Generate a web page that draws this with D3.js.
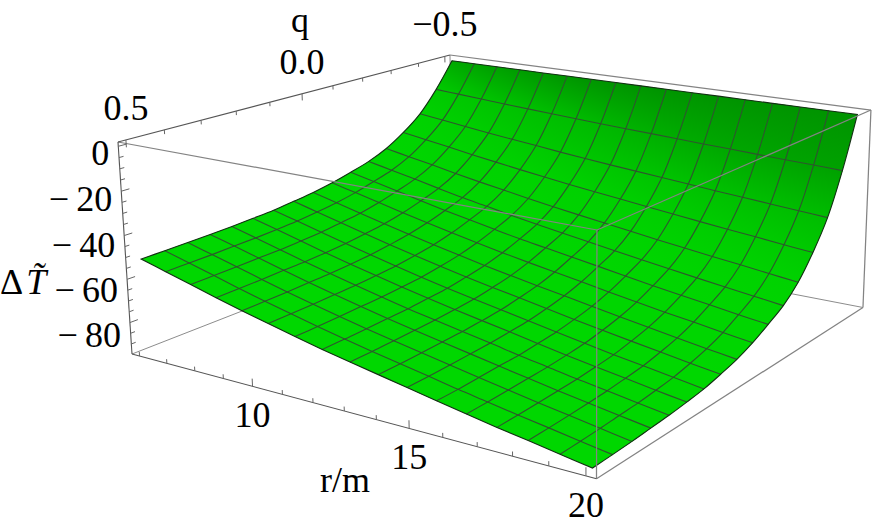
<!DOCTYPE html>
<html>

<head>
    <meta charset="utf-8">
    <title>Delta T surface</title>
    <script src="https://d3js.org/d3.v7.min.js"></script>
    <style>
        html, body { margin: 0; padding: 0; background: #fff; }
        svg { display: block; }
        text { font-family: "Liberation Serif", serif; font-size: 36px; fill: #000; }
    </style>
</head>

<body>
    <div id="myPlot"></div>
    <script>
        // mesh positions on the surface
        var rValues = [6, 6.875, 7.75, 8.625, 9.5, 10.375, 11.25, 12.125, 13, 13.875, 14.75, 15.625, 16.5, 17.375, 18.25, 19.125, 20];
        var qValues = [-0.5, -0.4375, -0.375, -0.3125, -0.25, -0.1875, -0.125, -0.0625, 0, 0.0625, 0.125, 0.1875, 0.25, 0.3125, 0.375, 0.4375, 0.5];

        // one row per q value
        var zRows = [
            [0, 0, 0, 0, 0, 0, 0, 0, 0, 0, 0, 0, 0, 0, 0, 0, 0],
            [-13.0, -13.8, -14.7, -15.5, -16.3, -17.0, -17.8, -18.5, -19.1, -19.7, -20.3, -21.0, -21.5, -22.1, -22.7, -23.2, -23.8],
            [-23.5, -25.0, -26.5, -28.0, -29.4, -30.7, -32.1, -33.3, -34.5, -35.6, -36.7, -37.8, -38.9, -39.9, -40.9, -41.9, -42.9],
            [-30.7, -32.6, -34.5, -36.5, -38.3, -40.1, -41.8, -43.4, -44.9, -46.4, -47.8, -49.3, -50.7, -52.1, -53.3, -54.7, -55.9],
            [-36.3, -38.6, -40.8, -43.2, -45.4, -47.4, -49.5, -51.4, -53.2, -54.9, -56.6, -58.4, -60.0, -61.6, -63.1, -64.7, -66.2],
            [-40.1, -42.6, -45.1, -47.7, -50.2, -52.4, -54.7, -56.8, -58.8, -60.7, -62.6, -64.5, -66.3, -68.1, -69.8, -71.5, -73.2],
            [-42.7, -45.3, -48.0, -50.8, -53.4, -55.8, -58.2, -60.5, -62.5, -64.5, -66.5, -68.6, -70.6, -72.5, -74.2, -76.1, -77.8],
            [-45.0, -47.8, -50.6, -53.5, -56.2, -58.8, -61.3, -63.7, -65.9, -68.0, -70.1, -72.3, -74.4, -76.4, -78.2, -80.2, -82.0],
            [-46.7, -49.6, -52.6, -55.6, -58.4, -61.1, -63.7, -66.2, -68.5, -70.7, -72.8, -75.1, -77.2, -79.3, -81.3, -83.3, -85.2],
            [-47.9, -50.9, -53.9, -57.0, -59.9, -62.7, -65.4, -67.9, -70.3, -72.5, -74.8, -77.1, -79.3, -81.4, -83.4, -85.5, -87.4],
            [-49.0, -52.0, -55.1, -58.2, -61.2, -64.0, -66.8, -69.4, -71.8, -74.1, -76.4, -78.7, -81.0, -83.2, -85.2, -87.3, -89.3],
            [-49.6, -52.7, -55.8, -59.0, -62.0, -64.8, -67.6, -70.2, -72.7, -75.0, -77.3, -79.7, -82.0, -84.2, -86.2, -88.4, -90.4],
            [-50.1, -53.2, -56.4, -59.6, -62.6, -65.5, -68.3, -71.0, -73.4, -75.8, -78.1, -80.6, -82.8, -85.1, -87.1, -89.3, -91.3],
            [-50.4, -53.5, -56.7, -59.9, -63.0, -65.9, -68.7, -71.4, -73.9, -76.2, -78.6, -81.0, -83.3, -85.6, -87.7, -89.8, -91.9],
            [-50.7, -53.9, -57.0, -60.3, -63.4, -66.3, -69.1, -71.8, -74.3, -76.7, -79.1, -81.5, -83.8, -86.1, -88.2, -90.4, -92.5],
            [-50.9, -54.1, -57.3, -60.6, -63.7, -66.6, -69.5, -72.2, -74.7, -77.1, -79.5, -82.0, -84.2, -86.5, -88.6, -90.8, -92.9],
            [-51.1, -54.3, -57.5, -60.8, -63.9, -66.8, -69.7, -72.4, -74.9, -77.3, -79.7, -82.2, -84.5, -86.8, -88.9, -91.1, -93.2]
        ];

        var rTickLabels = [10, 15, 20];
        var qTickLabels = [0.5, 0, -0.5];
        var zTickLabels = [0, -20, -40, -60, -80];

        var svg = d3.select("#myPlot").append("svg")
            .attr("width", 872)
            .attr("height", 531);

        // box coordinates, 0 to 1 along each edge
        var uScale = d3.scaleLinear().domain([5.72, 20.28]).range([0, 1]);
        var vScale = d3.scaleLinear().domain([0.52, -0.52]).range([0, 1]);
        var wScale = d3.scaleLinear().domain([-94.7, 1.9]).range([0, 1]);

        // camera, as a projective matrix fitted to the box corners
        var camX = [370.1, 428.5, -17.54, 132];
        var camY = [48.96, -71.37, -216.26, 354];
        var camW = [-0.15828, 0.23665, -0.03, 1];

        function projectBox(u, v, w) {
            var d = camW[0] * u + camW[1] * v + camW[2] * w + camW[3];
            return [
                (camX[0] * u + camX[1] * v + camX[2] * w + camX[3]) / d,
                (camY[0] * u + camY[1] * v + camY[2] * w + camY[3]) / d
            ];
        }

        function project(r, q, z) {
            return projectBox(uScale(r), vScale(q), wScale(z));
        }

        function surfacePoint(i, j) {
            return project(rValues[i], qValues[j], zRows[j][i]);
        }

        var rMin = uScale.domain()[0], rMax = uScale.domain()[1];
        var qFront = vScale.domain()[0], qBack = vScale.domain()[1];
        var zMin = wScale.domain()[0], zMax = wScale.domain()[1];

        function drawEdges(group, edges, color, width) {
            group.selectAll("line")
                .data(edges)
                .enter()
                .append("line")
                .attr("x1", function (d) { return project(d[0][0], d[0][1], d[0][2])[0]; })
                .attr("y1", function (d) { return project(d[0][0], d[0][1], d[0][2])[1]; })
                .attr("x2", function (d) { return project(d[1][0], d[1][1], d[1][2])[0]; })
                .attr("y2", function (d) { return project(d[1][0], d[1][1], d[1][2])[1]; })
                .attr("stroke", color)
                .attr("stroke-width", width);
        }

        // edges behind the surface
        drawEdges(svg.append("g"), [
            [[rMin, qBack, zMin], [rMin, qFront, zMin]],
            [[rMin, qBack, zMin], [rMax, qBack, zMin]],
            [[rMin, qBack, zMin], [rMin, qBack, zMax]]
        ], "#8c8c8c", 1);

        var line = d3.line().curve(d3.curveCatmullRom);
        var iAll = d3.range(rValues.length);
        var jAll = d3.range(qValues.length);
        var iLast = rValues.length - 1, jLast = qValues.length - 1;

        function meshLineJ(j) { return iAll.map(function (i) { return surfacePoint(i, j); }); }
        function meshLineI(i) { return jAll.map(function (j) { return surfacePoint(i, j); }); }

        // the outer edge of the surface, four curved pieces
        var outline = line(meshLineJ(0))
            + line(meshLineI(iLast)).replace("M", "L")
            + line(meshLineJ(jLast).reverse()).replace("M", "L")
            + line(meshLineI(0).reverse()).replace("M", "L") + "Z";

        var defs = svg.append("defs");
        defs.append("clipPath").attr("id", "surfaceClip")
            .append("path").attr("d", outline);

        // the surface gets darker where it drops quickly in q
        var shade = d3.scaleLinear()
            .domain([0, 4, 9, 12, 16, 19, 26])
            .range(["#00d700", "#00d600", "#00d100", "#00c800", "#00bc00", "#00a800", "#009400"])
            .clamp(true);

        function vertexColor(i, j) {
            var drop;
            if (j === 0) drop = 1.5 * (zRows[0][i] - zRows[1][i]);
            else if (j === jLast) drop = zRows[j - 1][i] - zRows[j][i];
            else drop = (zRows[j - 1][i] - zRows[j + 1][i]) / 2;
            return shade(drop);
        }

        function midpoint(a, b) {
            return [(a[0] + b[0]) / 2, (a[1] + b[1]) / 2];
        }

        var cells = [];
        d3.range(jLast).forEach(function (j) {
            d3.range(iLast).forEach(function (i) {
                cells.push({ i: i, j: j, id: "cell-" + i + "-" + j });
            });
        });

        // each cell blends from the colour of its back edge to its front edge
        var gradients = defs.selectAll("linearGradient")
            .data(cells)
            .enter()
            .append("linearGradient")
            .attr("id", function (d) { return d.id; })
            .attr("gradientUnits", "userSpaceOnUse")
            .attr("x1", function (d) { return midpoint(surfacePoint(d.i, d.j), surfacePoint(d.i + 1, d.j))[0]; })
            .attr("y1", function (d) { return midpoint(surfacePoint(d.i, d.j), surfacePoint(d.i + 1, d.j))[1]; })
            .attr("x2", function (d) { return midpoint(surfacePoint(d.i, d.j + 1), surfacePoint(d.i + 1, d.j + 1))[0]; })
            .attr("y2", function (d) { return midpoint(surfacePoint(d.i, d.j + 1), surfacePoint(d.i + 1, d.j + 1))[1]; });
        gradients.append("stop").attr("offset", 0)
            .attr("stop-color", function (d) { return d3.interpolateRgb(vertexColor(d.i, d.j), vertexColor(d.i + 1, d.j))(0.5); });
        gradients.append("stop").attr("offset", 1)
            .attr("stop-color", function (d) { return d3.interpolateRgb(vertexColor(d.i, d.j + 1), vertexColor(d.i + 1, d.j + 1))(0.5); });

        svg.append("path").attr("d", outline).attr("fill", "#00d400");

        svg.append("g")
            .attr("clip-path", "url(#surfaceClip)")
            .selectAll("path")
            .data(cells)
            .enter()
            .append("path")
            .attr("d", function (d) {
                return d3.line()([
                    surfacePoint(d.i, d.j), surfacePoint(d.i + 1, d.j),
                    surfacePoint(d.i + 1, d.j + 1), surfacePoint(d.i, d.j + 1)
                ]) + "Z";
            })
            .attr("fill", function (d) { return "url(#" + d.id + ")"; })
            .attr("stroke", function (d) { return "url(#" + d.id + ")"; })
            .attr("stroke-width", 0.7);

        // mesh lines, 15 each way
        var meshLines = d3.range(1, jLast).map(meshLineJ).concat(d3.range(1, iLast).map(meshLineI));
        svg.append("g")
            .selectAll("path")
            .data(meshLines)
            .enter()
            .append("path")
            .attr("d", line)
            .attr("fill", "none")
            .attr("stroke", "#2e552e")
            .attr("stroke-width", 1.1);

        svg.append("path")
            .attr("d", outline)
            .attr("fill", "none")
            .attr("stroke", "#143014")
            .attr("stroke-width", 1.1);

        // edges in front of the surface
        drawEdges(svg.append("g"), [
            [[rMin, qFront, zMax], [rMax, qFront, zMax]],
            [[rMax, qFront, zMax], [rMax, qBack, zMax]],
            [[rMax, qFront, zMax], [rMax, qFront, zMin]],
            [[rMax, qFront, zMin], [rMax, qBack, zMin]],
            [[rMax, qBack, zMin], [rMax, qBack, zMax]],
            [[rMin, qBack, zMax], [rMax, qBack, zMax]]
        ], "#838383", 1.25);

        // the three axes with ticks are darker
        drawEdges(svg.append("g"), [
            [[rMin, qFront, zMin], [rMax, qFront, zMin]],
            [[rMin, qFront, zMin], [rMin, qFront, zMax]],
            [[rMin, qFront, zMax], [rMin, qBack, zMax]]
        ], "#555555", 1.1);

        function isMajor(labels, value) {
            return labels.some(function (l) { return Math.abs(l - value) < 1e-6; });
        }

        var rTicks = uScale.ticks(15);
        var qTicks = vScale.ticks(10);
        var zTicks = wScale.ticks(20);
        var tickGroup = svg.append("g").attr("stroke", "#666666").attr("stroke-width", 1);

        function drawTick(start, end) {
            tickGroup.append("line")
                .attr("x1", start[0]).attr("y1", start[1])
                .attr("x2", end[0]).attr("y2", end[1]);
        }

        rTicks.forEach(function (r) {
            var len = isMajor(rTickLabels, r) ? 0.036 : 0.02;
            drawTick(projectBox(uScale(r), 0, 0), projectBox(uScale(r), 0, len));
        });
        qTicks.forEach(function (q) {
            var len = isMajor(qTickLabels, q) ? 0.034 : 0.02;
            drawTick(projectBox(0, vScale(q), 1), projectBox(0, vScale(q), 1 - len));
        });
        zTicks.forEach(function (z) {
            var len = isMajor(zTickLabels, z) ? 0.02 : 0.011;
            drawTick(projectBox(0, 0, wScale(z)), projectBox(0, len, wScale(z)));
        });

        function tickText(d) {
            return d < 0 ? "\u2212\u2009" + (-d) : String(d);
        }
        function qText(d) {
            return d < 0 ? "\u2212" + (-d).toFixed(1) : d.toFixed(1);
        }

        svg.append("g").selectAll("text")
            .data(rTickLabels).enter().append("text")
            .attr("text-anchor", "middle")
            .attr("x", function (d) { return projectBox(uScale(d), 0, 0)[0]; })
            .attr("y", function (d) { return projectBox(uScale(d), 0, 0)[1] + 41; })
            .text(String);

        svg.append("g").selectAll("text")
            .data(qTickLabels).enter().append("text")
            .attr("text-anchor", "middle")
            .attr("x", function (d) { return projectBox(0, vScale(d), 1)[0]; })
            .attr("y", function (d) { return projectBox(0, vScale(d), 1)[1] - 20; })
            .text(qText);

        var zLabelDrop = d3.scaleLinear().domain([0, -80]).range([19, 24]);
        svg.append("g").selectAll("text")
            .data(zTickLabels).enter().append("text")
            .attr("text-anchor", "end")
            .attr("x", function (d) { return projectBox(0, 0, wScale(d))[0] - 9; })
            .attr("y", function (d) { return projectBox(0, 0, wScale(d))[1] + zLabelDrop(d); })
            .text(tickText);

        // axis titles
        svg.append("text").attr("x", 300).attr("y", 32).attr("text-anchor", "middle").text("q");
        svg.append("text").attr("x", 345).attr("y", 492).attr("text-anchor", "middle").text("r/m");
        var zTitle = svg.append("text").attr("x", 0).attr("y", 294);
        zTitle.append("tspan").text("\u0394");
        zTitle.append("tspan").attr("font-style", "italic").attr("dx", 3).text("T\u0303");
    </script>
</body>

</html>
